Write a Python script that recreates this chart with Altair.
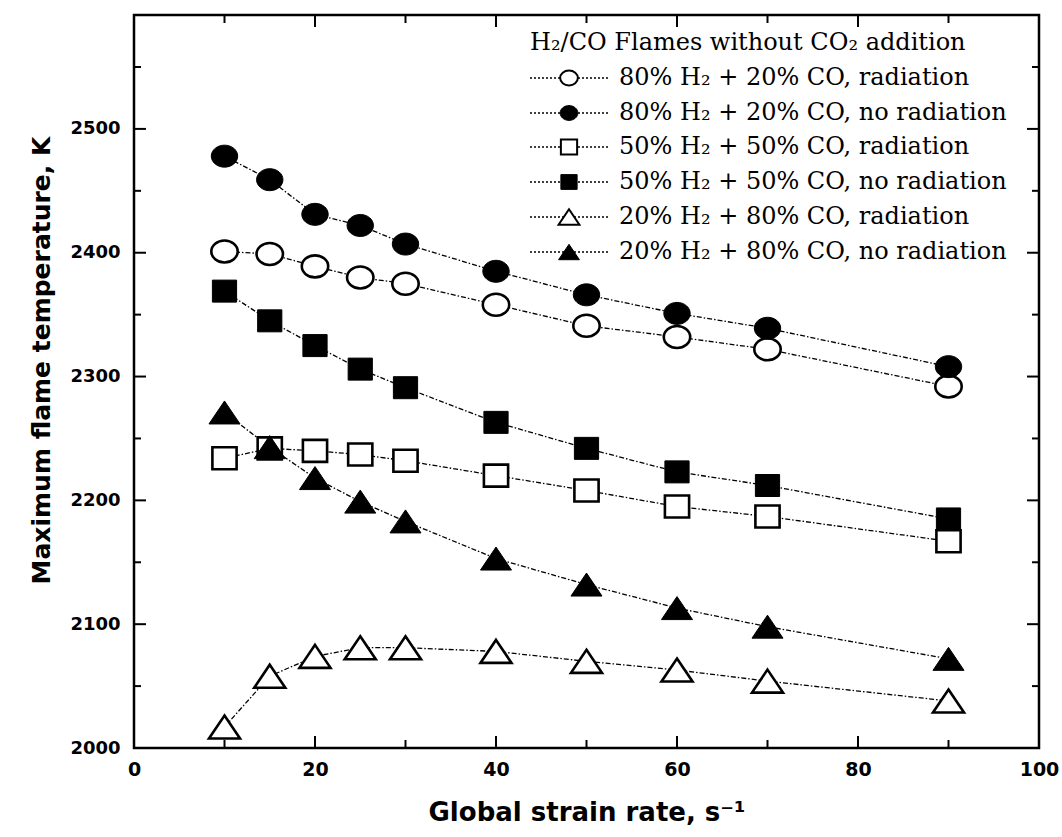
import altair as alt
import pandas as pd

# ---------------- data ----------------
strain = [10, 15, 20, 25, 30, 40, 50, 60, 70, 90]
t_80h2_rad   = [2401, 2399, 2389, 2380, 2375, 2358, 2341, 2332, 2322, 2292]
t_80h2_norad = [2478, 2459, 2431, 2422, 2407, 2385, 2366, 2351, 2339, 2308]
t_50h2_rad   = [2234, 2242, 2240, 2237, 2232, 2220, 2208, 2195, 2187, 2167]
t_50h2_norad = [2369, 2345, 2325, 2306, 2291, 2263, 2242, 2223, 2212, 2185]
t_20h2_rad   = [2017, 2058, 2074, 2081, 2081, 2078, 2070, 2063, 2054, 2038]
t_20h2_norad = [2271, 2243, 2218, 2199, 2183, 2153, 2132, 2113, 2098, 2072]

series_labels = [
    "80% H\u2082 + 20% CO, radiation",
    "80% H\u2082 + 20% CO, no radiation",
    "50% H\u2082 + 50% CO, radiation",
    "50% H\u2082 + 50% CO, no radiation",
    "20% H\u2082 + 80% CO, radiation",
    "20% H\u2082 + 80% CO, no radiation",
]
series_values = [t_80h2_rad, t_80h2_norad, t_50h2_rad, t_50h2_norad, t_20h2_rad, t_20h2_norad]
legend_title = "H\u2082/CO Flames without CO\u2082 addition"

x_major = [0, 20, 40, 60, 80, 100]
x_minor = [10, 30, 50, 70, 90]
y_major = [2000, 2100, 2200, 2300, 2400, 2500]
y_minor = [2050, 2150, 2250, 2350, 2450, 2550]

# ---------------- styling ----------------
W, H = 905, 733
ELLIPSE = "M -1.2 0 A 1.2 1 0 1 0 1.2 0 A 1.2 1 0 1 0 -1.2 0 Z"
SQUARE = "M -1.1 -1 L 1.1 -1 L 1.1 1 L -1.1 1 Z"
TRIANGLE = "M 0 -1 L 1.35 1 L -1.35 1 Z"
styles = [
    (ELLIPSE, False, 484), (ELLIPSE, True, 484),
    (SQUARE, False, 484), (SQUARE, True, 484),
    (TRIANGLE, False, 529), (TRIANGLE, True, 529),
]

xscale = alt.Scale(domain=[0, 100], nice=False, zero=False)
yscale = alt.Scale(domain=[2000, 2592], nice=False, zero=False)

x_axis = alt.Axis(
    values=x_major, format="d", grid=False, ticks=False, domain=False,
    labelFont="DejaVu Sans", labelFontWeight="bold", labelFontSize=19,
    labelColor="black", labelPadding=12, labelFlush=False, labelOverlap=False,
    title="Global strain rate, s\u207b\u00b9", titleFont="DejaVu Sans",
    titleFontWeight="bold", titleFontSize=26, titleColor="black", titlePadding=20,
)
y_axis = alt.Axis(
    values=y_major, format="d", grid=False, ticks=False, domain=False,
    labelFont="DejaVu Sans", labelFontWeight="bold", labelFontSize=18,
    labelColor="black", labelPadding=14, labelFlush=False, labelOverlap=False,
    title="Maximum flame temperature, K", titleFont="DejaVu Sans",
    titleFontWeight="bold", titleFontSize=25, titleColor="black",
    titleX=-93, titleY=345, titleAlign="center", titleBaseline="middle", titleAngle=270,
)

X = lambda f: alt.X(f"{f}:Q", scale=xscale, axis=x_axis)
Y = lambda f: alt.Y(f"{f}:Q", scale=yscale, axis=y_axis)

layers = []
frames = []
for lab, vals in zip(series_labels, series_values):
    frames.append(pd.DataFrame({"x": strain, "y": vals, "series": lab}))

for df in frames:
    layers.append(
        alt.Chart(df).mark_line(color="black", strokeWidth=1.3, strokeDash=[5, 2, 1.5, 2])
        .encode(x=X("x"), y=Y("y"))
    )
for df, (shape, filled, size) in zip(frames, styles):
    layers.append(
        alt.Chart(df).mark_point(
            shape=shape, size=size, filled=True, opacity=1,
            fill="black" if filled else "white", stroke="black",
            strokeWidth=1 if filled else 2.6,
        ).encode(x=X("x"), y=Y("y"))
    )

# ---------------- inward ticks (all four sides) ----------------
ymaj = pd.DataFrame({"y": y_major})
ymin = pd.DataFrame({"y": y_minor})
xmaj = pd.DataFrame({"x": x_major})
xmin = pd.DataFrame({"x": x_minor})
tick = dict(color="black", strokeWidth=2)
for d, L in ((ymaj, 12), (ymin, 7)):
    layers.append(alt.Chart(d).mark_rule(**tick).encode(y=Y("y"), x=alt.value(0), x2=alt.value(L)))
    layers.append(alt.Chart(d).mark_rule(**tick).encode(y=Y("y"), x=alt.value(W - L), x2=alt.value(W)))
for d, L in ((xmaj, 12), (xmin, 8)):
    layers.append(alt.Chart(d).mark_rule(**tick).encode(x=X("x"), y=alt.value(H), y2=alt.value(H - L)))
    layers.append(alt.Chart(d).mark_rule(**tick).encode(x=X("x"), y=alt.value(0), y2=alt.value(L)))

# ---------------- hand-built legend ----------------
one = pd.DataFrame({"a": [1]})
LX0, LX1, LXM, LXT = 530 - 134, 609 - 134, 569 - 134, 619 - 134
layers.append(
    alt.Chart(one).mark_text(font="DejaVu Serif", fontSize=24, align="left",
                             baseline="middle", color="black")
    .encode(x=alt.value(LX0), y=alt.value(43 - 15), text=alt.value(legend_title))
)
leg_y = [78, 113, 147, 182, 217, 252]
for lab, (shape, filled, size), yy in zip(series_labels, styles, leg_y):
    yy = yy - 15
    layers.append(
        alt.Chart(one).mark_rule(color="black", strokeWidth=1.3, strokeDash=[2, 2])
        .encode(x=alt.value(LX0), x2=alt.value(LX1), y=alt.value(yy))
    )
    layers.append(
        alt.Chart(one).mark_point(
            shape=shape, size=size * 0.45, filled=True, opacity=1,
            fill="black" if filled else "white", stroke="black",
            strokeWidth=1 if filled else 2,
        ).encode(x=alt.value(LXM), y=alt.value(yy))
    )
    layers.append(
        alt.Chart(one).mark_text(font="DejaVu Serif", fontSize=24, align="left",
                                 baseline="middle", color="black")
        .encode(x=alt.value(LXT), y=alt.value(yy), text=alt.value(lab))
    )

chart = (
    alt.layer(*layers)
    .properties(
        width=W, height=H,
        padding={"left": 134, "top": 15, "right": 23, "bottom": 89},
        autosize=alt.AutoSizeParams(type="none"),
        background="white",
    )
    .configure_view(stroke="black", strokeWidth=2.5)
)

chart.save("out.html", embed_options={"renderer": "svg", "actions": False})
